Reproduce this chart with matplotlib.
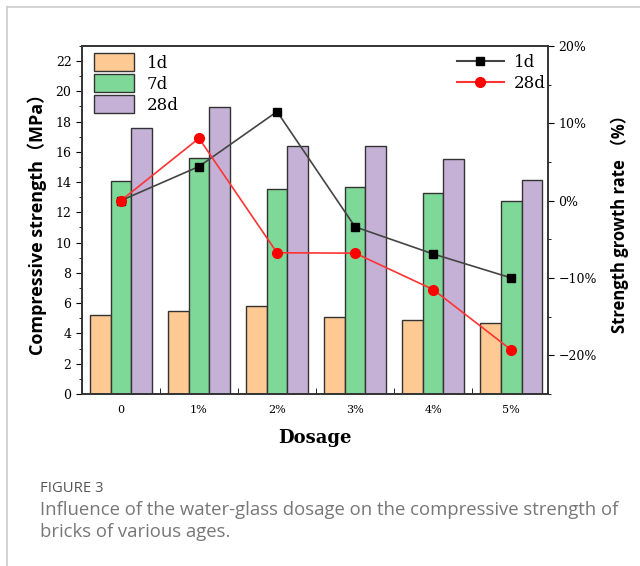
import numpy as np
import matplotlib
matplotlib.use("Agg")
import matplotlib.pyplot as plt
import matplotlib.patches as mpatches
from matplotlib.lines import Line2D
from matplotlib.ticker import MultipleLocator, FuncFormatter

# Dane
dosage = ["0", "1%", "2%", "3%", "4%", "5%"]
strength_1d = [5.24, 5.47, 5.83, 5.06, 4.90, 4.71]
strength_7d = [14.1, 15.56, 13.57, 13.7, 13.25, 12.75]
strength_28d = [17.55, 18.97, 16.35, 16.35, 15.52, 14.12]
growth_1d = [0.0, 4.4, 11.5, -3.4, -6.9, -10.0]
growth_28d = [0.0, 8.05, -6.75, -6.8, -11.5, -19.3]

serif = ["DejaVu Serif", "Noto Sans CJK SC"]
sans = ["Open Sans", "Noto Sans CJK SC"]

fig = plt.figure(figsize=(6.4, 5.66), dpi=100)
ax = fig.add_axes([0.128, 0.304, 0.728, 0.615])
x = np.arange(len(dosage))
w = 0.265

bar_colors = ["#FFC994", "#7ED897", "#C5B1D6"]
for off, vals, c in zip([-w, 0, w], [strength_1d, strength_7d, strength_28d], bar_colors):
    ax.bar(x + off, vals, width=w, color=c, edgecolor="#333333", linewidth=1.0, zorder=2)

ax.set_xlim(-0.5, 5.47)
ax.set_ylim(0, 23)
ax.set_xticks(x)
ax.set_xticklabels(dosage, fontfamily="DejaVu Serif", fontsize=8)
ax.xaxis.set_minor_locator(MultipleLocator(0.5))
ax.tick_params(axis="x", which="both", direction="in", length=4, pad=8)
ax.yaxis.set_major_locator(MultipleLocator(2))
ax.yaxis.set_minor_locator(MultipleLocator(1))
ax.tick_params(axis="y", which="major", direction="out", length=4, labelsize=9)
ax.tick_params(axis="y", which="minor", direction="out", length=2.5)
for t in ax.get_yticklabels():
    t.set_fontfamily("DejaVu Serif")

ax2 = ax.twinx()
ax2.plot(x, growth_1d, color="#444444", marker="s", markersize=6,
         markerfacecolor="black", markeredgecolor="black", linewidth=1.2, zorder=3)
ax2.plot(x, growth_28d, color="#FF3333", marker="o", markersize=7,
         markerfacecolor="red", markeredgecolor="red", linewidth=1.2, zorder=3)
ax2.set_ylim(-25, 20)
ax2.yaxis.set_major_locator(MultipleLocator(10))
ax2.yaxis.set_minor_locator(MultipleLocator(5))
ax2.yaxis.set_major_formatter(FuncFormatter(lambda v, p: f"{v:.0f}%".replace("-", "\u2212")))
ax2.tick_params(axis="y", which="major", direction="out", length=4, labelsize=9)
ax2.tick_params(axis="y", which="minor", direction="out", length=2.5)
for t in ax2.get_yticklabels():
    t.set_fontfamily("DejaVu Serif")

for a in (ax, ax2):
    for s in a.spines.values():
        s.set_color("#333333")
        s.set_linewidth(1.2)

ax.set_xlabel("Dosage", fontfamily="DejaVu Serif", fontweight="bold", fontsize=13, labelpad=10)
ax.set_ylabel("Compressive strength（MPa）", fontfamily=sans, fontweight="bold", fontsize=13, labelpad=6)
ax2.set_ylabel("Strength growth rate （%）", fontfamily=sans, fontweight="bold", fontsize=12, labelpad=10)

# Legendy
bar_handles = [mpatches.Patch(facecolor=c, edgecolor="#333333", label=l)
               for c, l in zip(bar_colors, ["1d", "7d", "28d"])]
ax.legend(handles=bar_handles, loc="upper left", bbox_to_anchor=(0.0, 1.012),
          frameon=False, prop={"family": "DejaVu Serif", "size": 12},
          handlelength=2.4, handleheight=1.25, labelspacing=0.15, handletextpad=0.8,
          borderaxespad=0.3)
line_handles = [Line2D([], [], color="#444444", marker="s", markerfacecolor="black",
                       markeredgecolor="black", label="1d"),
                Line2D([], [], color="#FF3333", marker="o", markerfacecolor="red",
                       markeredgecolor="red", markersize=7, label="28d")]
ax2.legend(handles=line_handles, loc="upper right", bbox_to_anchor=(1.02, 1.01),
           frameon=False, prop={"family": "DejaVu Serif", "size": 12},
           handlelength=2.8, labelspacing=0.25, handletextpad=0.6, borderaxespad=0.3)

# Podpis rysunku
fig.text(40 / 640, 1 - 489 / 566, "FIGURE 3", fontfamily="Open Sans", fontsize=10.7,
         color="#555555", va="center")
fig.text(40 / 640, 1 - 521 / 566,
         "Influence of the water-glass dosage on the compressive strength of\nbricks of various ages.",
         fontfamily="Open Sans", fontsize=13.3, color="#777777", va="center", linespacing=1.3)

# Ramka
fig.add_artist(Line2D([7 / 640, 1], [1 - 7 / 566, 1 - 7 / 566], color="#cccccc", linewidth=1.2))
fig.add_artist(Line2D([7 / 640, 7 / 640], [0, 1 - 7 / 566], color="#cccccc", linewidth=1.2))

fig.savefig("out.png", dpi=100)
